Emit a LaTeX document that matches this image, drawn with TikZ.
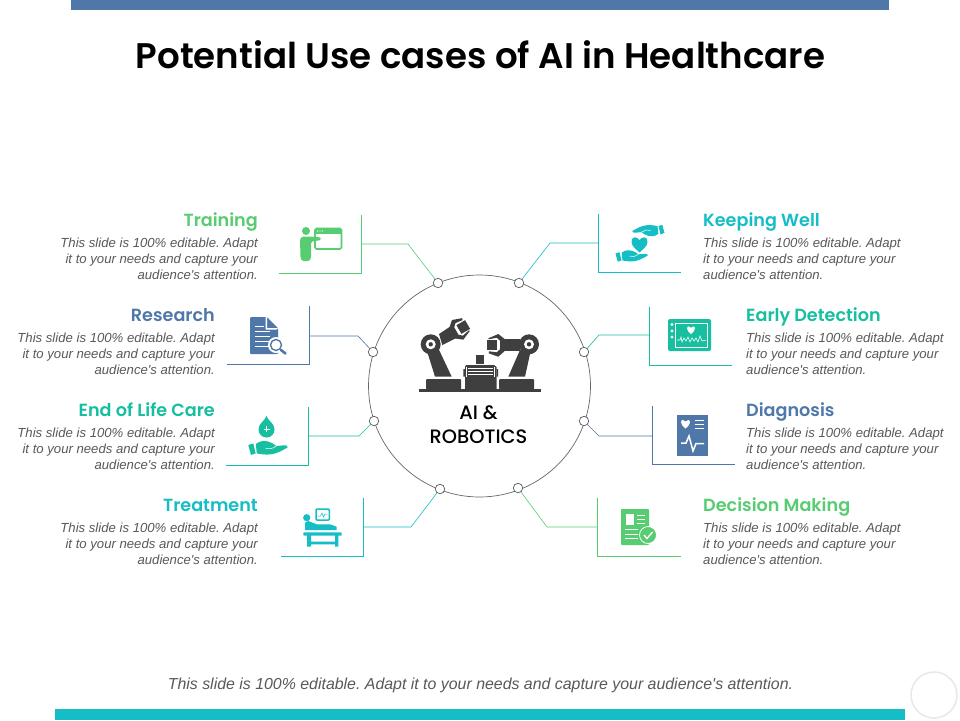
\documentclass[tikz,border=0pt]{standalone}
\usepackage{fontspec}
\setmainfont{Liberation Sans}
\newfontfamily\bodyf{Liberation Sans}
\newfontfamily\headf{Poppins Medium}
\newfontfamily\titlef{Poppins SemiBold}
\frenchspacing
\definecolor{cgreen}{HTML}{58CC70}
\definecolor{cblue}{HTML}{4F78A8}
\definecolor{cteal}{HTML}{16BFA0}
\definecolor{ccyan}{HTML}{15BEC6}
\definecolor{cdark}{HTML}{3F3F3F}
\definecolor{ctext}{HTML}{595959}
\tikzset{
 x=1pt,y=-1pt,
 dotn/.style={circle,draw=black!65,fill=white,line width=0.7pt,minimum size=9.5pt,inner sep=0pt},
 headn/.style={inner sep=0pt,font=\titlef\fontsize{17.6}{20}\selectfont},
 bodyn/.style={inner sep=0pt,text=ctext,font=\bodyf\fontsize{13.15}{16}\selectfont\itshape},
 frameline/.style={line width=0.9pt},
 linkline/.style={line width=0.6pt},
}
\newcommand\bodytext{This slide is 100\% editable. Adapt\\it to your needs and capture your\\audience's attention.}
% #1 name #2 colour #3 title #4 text edge #5 heading baseline
\newcommand\leftitem[5]{%
 \node[headn,text=#2,anchor=base east] (#1h) at (#4,#5) {#3};
 \node[bodyn,align=right,anchor=north east] (#1b) at (#4,#5+12) {\bodytext};}
\newcommand\rightitem[5]{%
 \node[headn,text=#2,anchor=base west] (#1h) at (#4,#5) {#3};
 \node[bodyn,align=left,anchor=north west] (#1b) at (#4,#5+12) {\bodytext};}
% #1 name #2 colour #3 frame x #4 top #5 bottom #6 end of bottom rule #7 link y #8 knee x
\newcommand\frameitem[8]{%
 \coordinate (#1t) at (#3,#4);
 \coordinate (#1c) at (#3,#5);
 \coordinate (#1e) at (#6,#5);
 \coordinate (#1m) at (#3,#7);
 \coordinate (#1k) at (#8,#7);
 \draw[#2,frameline] (#1t) -- (#1c) -- (#1e);
 \draw[#2,linkline] (#1m) -- (#1k) -- (#1d);}
\newcommand\heartat[4]{\fill[#4,shift={(#1,#2)},scale=#3] (0,-0.55) .. controls (-0.3,-1.05) and (-1,-1.05) .. (-1,-0.35) .. controls (-1,0.25) and (-0.4,0.6) .. (0,1) .. controls (0.4,0.6) and (1,0.25) .. (1,-0.35) .. controls (1,-1.05) and (0.3,-1.05) .. (0,-0.55) -- cycle;}
\newcommand\handpath[1]{%
 \fill[#1] (0,4.3) -- (5,2.7) -- (7.3,12.7) -- (2.7,14.3) -- cycle;
 \fill[#1] (7.5,3.3) .. controls (10,1.5) and (12,0.3) .. (15,0.3) .. controls (19,0.3) and (21,1) .. (24,2.5) -- (28,5.3) -- (35,4.7) .. controls (38,4) and (40,5.5) .. (39.3,6.7) .. controls (33,10.5) and (28,13) .. (22,13.7) .. controls (17,14.2) and (12,13.5) .. (8.5,12.7) -- cycle;
 \draw[white,line width=0.5pt] (17,7.5) .. controls (21,8.5) and (25,8) .. (28,5.3);}
\newcommand\clawpath[1]{%
 \fill[#1] (8,-5) rectangle (18,5);
 \fill[#1] (16.3,-8.3) -- (6.7,-11.7) -- (0,-5.7) -- (0,5.7) -- (6.7,11) -- (16.7,6.7) -- (16,5.7) -- (8.3,7.3) -- (5,4.3) -- (5,-4.3) -- (8.3,-7.3) -- (16,-6.3) -- cycle;}
\begin{document}
\begin{tikzpicture}
\useasboundingbox (0,0) rectangle (960,720);
\fill[white] (0,0) rectangle (960,720);
\fill[cblue] (71,0) rectangle (889,10);
\fill[ccyan] (55,709) rectangle (905,720);
\node[inner sep=0pt,font=\titlef\fontsize{35.6}{40}\selectfont,text=black] (title) at (480.5,54.5) {Potential Use cases of AI in Healthcare};
\node[inner sep=0pt,text=ctext,font=\bodyf\fontsize{15.9}{18}\selectfont\itshape] (foot) at (480.5,685) {This slide is 100\% editable. Adapt it to your needs and capture your audience's attention.};
\node[circle,draw=black!9,line width=1.5pt,minimum size=46pt,inner sep=0pt] (ghost) at (934,695) {};
% hub
\node[circle,draw=black!60,line width=0.7pt,minimum size=222pt,inner sep=0pt] (hub) at (479.5,386) {};
\node[inner sep=0pt,align=center,font=\headf\fontsize{19.4}{23.5}\selectfont,text=black] (hubt) at (478.5,424.5) {AI \&\\ROBOTICS};
% connectors
\node[dotn] (ad) at (438,283) {};
\node[dotn] (bd) at (373,352) {};
\node[dotn] (cd) at (374,421) {};
\node[dotn] (dd) at (440,489) {};
\node[dotn] (ed) at (519,283) {};
\node[dotn] (fd) at (584,352) {};
\node[dotn] (gd) at (584,421) {};
\node[dotn] (hd) at (518,488) {};
\frameitem{a}{cgreen}{361}{215}{273}{279}{244}{408}
\frameitem{b}{cblue}{309}{306}{364}{227}{336}{358}
\frameitem{c}{cteal}{308}{407}{465}{226}{436}{359}
\frameitem{d}{ccyan}{363}{498}{556}{281}{527}{411}
\frameitem{e}{ccyan}{598}{214}{272}{681}{243}{550}
\frameitem{f}{cteal}{649}{307}{365}{732}{335}{599}
\frameitem{g}{cblue}{652}{406}{464}{735}{436}{599}
\frameitem{h}{cgreen}{597}{498}{556}{681}{527}{547}
% texts
\leftitem{a}{cgreen}{Training}{258}{226}
\leftitem{b}{cblue}{Research}{215}{321}
\leftitem{c}{cteal}{End of Life Care}{215}{416}
\leftitem{d}{ccyan}{Treatment}{258}{511}
\rightitem{e}{ccyan}{Keeping Well}{703}{226}
\rightitem{f}{cteal}{Early Detection}{746}{321}
\rightitem{g}{cblue}{Diagnosis}{746}{416}
\rightitem{h}{cgreen}{Decision Making}{703}{511}
% training icon
\fill[cgreen] (306,231) circle[radius=4];
\fill[cgreen,rounded corners=1.5pt] (300,239) -- (302,236.5) -- (310.7,236.5) -- (321,237.5) -- (321,240) -- (311,241.7) -- (311,258) -- (309.5,261) -- (302,261) -- (300.5,258) -- cycle;
\draw[cgreen,line width=1.6pt,rounded corners=1.5pt] (315,228.5) rectangle (341.5,249);
\fill[cgreen] (315,228.5) rectangle (341.5,233.5);
\foreach \q in {317.5,320,322.5}{\fill[white] (\q,231) circle[radius=0.7];}
% research icon
\fill[cblue,rounded corners=1pt] (250,317) -- (267,317) -- (278,328) -- (278,354) -- (250,354) -- cycle;
\fill[white] (267,317) -- (267,328) -- (278,328) -- (276.5,329.5) -- (265.5,329.5) -- (265.5,317) -- cycle;
\foreach \q in {326,331,336,341,346}{\draw[white,line width=0.9pt] (255,\q) -- (\ifnum\q<331 264\else 270\fi,\q);}
\fill[white] (276,345) circle[radius=8];
\draw[cblue,line width=1.4pt,fill=white] (276,345) circle[radius=5.5];
\draw[cblue,line width=2.6pt,line cap=round] (281,350) -- (285.5,353.5);
% end of life icon
\fill[cteal] (266.5,416) .. controls (268,421) and (274.5,423) .. (274.5,429.5) .. controls (274.5,434) and (271,437.5) .. (266.5,437.5) .. controls (262,437.5) and (258.5,434) .. (258.5,429.5) .. controls (258.5,423) and (265,421) .. (266.5,416) -- cycle;
\draw[white,line width=1pt] (263.5,429) -- (269.5,429) (266.5,426) -- (266.5,432);
\begin{scope}[shift={(248.3,440.7)}] \handpath{cteal} \end{scope}
% treatment icon
\draw[ccyan,line width=1.5pt,rounded corners=1pt] (316,509) rectangle (329.3,520);
\draw[ccyan,line width=0.5pt] (318,516) -- (320.5,516) -- (322,513) -- (323.5,517) -- (325,514) -- (327.5,514);
\fill[ccyan] (306.7,517.7) circle[radius=3.6];
\fill[ccyan] (305,522.7) -- (308.3,521) -- (316.7,524.3) -- (330,524.3) -- (336.7,526.7) -- (336.7,530) -- (305,530) -- cycle;
\fill[ccyan,rounded corners=0.8pt] (303.3,532.3) rectangle (341.7,535.7);
\fill[ccyan] (307,535) rectangle (311,546.7) (335,535) rectangle (338.3,546.7) (307,541.7) rectangle (338,544.3);
% keeping well icon
\begin{scope}[shift={(615.5,250)},scale=0.82] \handpath{ccyan} \end{scope}
\begin{scope}[shift={(664.5,236.5)},scale=0.82,rotate=180] \handpath{ccyan} \end{scope}
\heartat{639.5}{244.5}{8}{ccyan}
% early detection icon
\fill[cteal,rounded corners=2pt] (668,319) rectangle (711,351);
\draw[white,line width=0.8pt] (675.5,323.5) rectangle (707.5,347.5);
\foreach \q in {324.5,331,337}{\fill[white] (672,\q) circle[radius=1.6];}
\heartat{691}{330}{4}{white}
\draw[white,line width=0.6pt] (677,340) -- (680,340) -- (681,337) -- (682,342) -- (684,338) -- (686,341) -- (688,337) -- (690,342) -- (692,338) -- (694,341) -- (696,338) -- (698,342) -- (700,336) -- (702,341) -- (706,340);
% diagnosis icon
\fill[cblue] (677,415) rectangle (708,456);
\heartat{685.5}{424}{4.5}{white}
\foreach \q in {420.5,424.5,428.5}{\draw[white,line width=1.5pt] (694.5,\q) -- (704,\q);}
\draw[white,line width=1.5pt] (681,443) -- (686,443) -- (689,436) -- (693,451) -- (696,443.5) -- (704,443.5);
% decision icon
\fill[cgreen,rounded corners=0.8pt] (621,509) rectangle (649,545);
\fill[white] (625.5,514) rectangle (634,525);
\foreach \q in {515,519,523}{\draw[white,line width=0.9pt] (637,\q) -- (645,\q);}
\foreach \q in {529,534,538.5}{\draw[white,line width=0.9pt] (625,\q) -- (638,\q);}
\draw[white,fill=cgreen,line width=0.8pt] (648,535) circle[radius=8.5];
\draw[white,line width=1.4pt] (644,535) -- (647,538.5) -- (652.5,532);
% robot
\fill[cdark] (419,389) rectangle (541,392);
\fill[cdark,rounded corners=1pt] (426,379) rectangle (461,389.5);
\fill[cdark,rounded corners=1pt] (499,379) rectangle (534,389.5);
\fill[cdark] (476,355) rectangle (484,363.5);
\fill[cdark] (466,365) -- (494,365) -- (496.5,367) -- (496.5,389.5) -- (465,389.5) -- (465,367) -- cycle;
\fill[cdark] (463.3,369) rectangle (465,376.7) (496.5,369) rectangle (498,376.7);
\foreach \q in {368.7,371.7,374.7}{\draw[white,line width=0.7pt] (468,\q) -- (493,\q);}
\draw[white,line width=0.6pt] (466.7,367) -- (466.7,377) (494.5,367) -- (494.5,377);
\fill[cdark] (427.7,353.3) -- (438.3,348.3) -- (451.7,376.7) -- (435,376.7) -- cycle;
\fill[cdark] (520.3,349.3) -- (530,354) -- (525,376.7) -- (508.3,376.7) -- cycle;
\fill[cdark] (439,334) -- (450,326.7) -- (455.7,338.3) -- (442.3,345) -- cycle;
\fill[cdark] (504.3,339.3) rectangle (520,350.7);
\begin{scope}[shift={(452,333.5)},rotate=30] \clawpath{cdark} \end{scope}
\begin{scope}[shift={(505,345)},rotate=180] \clawpath{cdark} \end{scope}
\fill[cdark] (430.7,344.3) circle[radius=10];
\fill[cdark] (529,344.3) circle[radius=10];
\fill[white] (430.7,344.3) circle[radius=5];
\fill[white] (529,344.3) circle[radius=5];
\fill[cdark] (430.7,344.3) circle[radius=2.2];
\fill[cdark] (529,344.3) circle[radius=2.2];
\end{tikzpicture}
\end{document}
